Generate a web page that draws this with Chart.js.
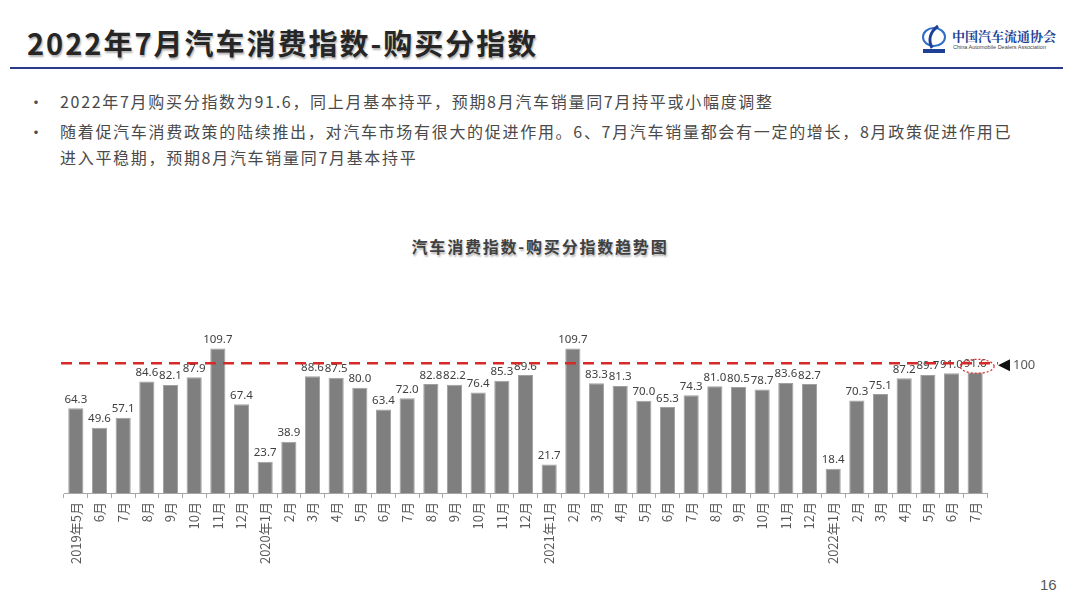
<!DOCTYPE html>
<html>
<head>
<meta charset="utf-8">
<script src="https://cdn.jsdelivr.net/npm/chart.js@4.4.0/dist/chart.umd.min.js"></script>
<style>
  body { margin: 0; width: 1080px; height: 608px; background: #fff; overflow: hidden; position: relative; font-family: "Noto Sans CJK SC", "Noto Sans", sans-serif; }
  .title { position: absolute; left: 27px; top: 20px; font-size: 29px; font-weight: bold; letter-spacing: 2px; color: #262626; text-shadow: 1px 2px 2px rgba(0,0,0,0.3); line-height: 44px; }
  .rule { position: absolute; left: 10px; top: 67px; width: 1053px; height: 2px; background: #2b3b8c; }
  .logo { position: absolute; left: 920px; top: 24px; width: 150px; height: 32px; }
  .logo .cn { position: absolute; left: 32px; top: 2px; font-family: "Noto Serif CJK SC", "Noto Sans CJK SC", serif; font-weight: bold; font-size: 13px; color: #1d3f95; white-space: nowrap; }
  .logo .en { position: absolute; left: 33px; top: 20px; font-size: 5.5px; color: #444; white-space: nowrap; font-family: "Liberation Sans", sans-serif; }
  .bul { position: absolute; left: 28px; font-size: 16px; letter-spacing: 1.7px; color: #4a4a4a; line-height: 26px; white-space: nowrap; }
  .bul .dot { position: absolute; left: 0; }
  .bul .txt { position: absolute; left: 32px; }
  .ctitle { position: absolute; left: 0; width: 1080px; top: 234px; text-align: center; font-size: 16px; font-weight: bold; letter-spacing: 1.8px; color: #404040; text-shadow: 1px 2px 2px rgba(0,0,0,0.3); }
  .page { position: absolute; left: 1040px; top: 576px; font-size: 15px; color: #595959; font-family: "Liberation Sans", sans-serif; }
  #wrap { position: absolute; left: 0; top: 293px; width: 1080px; height: 300px; }
</style>
</head>
<body>
<div class="title">2022年7月汽车消费指数-购买分指数</div>
<div class="rule"></div>
<div class="logo">
  <svg width="30" height="32" viewBox="0 0 30 32" style="position:absolute;left:0;top:0">
    <ellipse cx="14" cy="13" rx="11" ry="9" fill="none" stroke="#2f6fc4" stroke-width="2"/>
    <path d="M18 2 C10 8, 8 16, 12 24" fill="none" stroke="#1d3f95" stroke-width="3"/>
    <rect x="3" y="25" width="22" height="4" fill="#1d3f95"/>
  </svg>
  <div class="cn">中国汽车流通协会</div>
  <div class="en">China Automobile Dealers Association</div>
</div>
<div class="bul" style="top:88px"><span class="dot">•</span><span class="txt">2022年7月购买分指数为91.6，同上月基本持平，预期8月汽车销量同7月持平或小幅度调整</span></div>
<div class="bul" style="top:118px"><span class="dot">•</span><span class="txt">随着促汽车消费政策的陆续推出，对汽车市场有很大的促进作用。6、7月汽车销量都会有一定的增长，8月政策促进作用已<br>进入平稳期，预期8月汽车销量同7月基本持平</span></div>
<div class="ctitle">汽车消费指数-购买分指数趋势图</div>
<div class="page">16</div>
<div id="wrap"><canvas id="myChart"></canvas></div>

<script>
var months = ['2019年5月', '6月', '7月', '8月', '9月', '10月', '11月', '12月',
    '2020年1月', '2月', '3月', '4月', '5月', '6月', '7月', '8月', '9月', '10月', '11月', '12月',
    '2021年1月', '2月', '3月', '4月', '5月', '6月', '7月', '8月', '9月', '10月', '11月', '12月',
    '2022年1月', '2月', '3月', '4月', '5月', '6月', '7月'];
var buyIndex = [64.3, 49.6, 57.1, 84.6, 82.1, 87.9, 109.7, 67.4,
    23.7, 38.9, 88.6, 87.5, 80.0, 63.4, 72.0, 82.8, 82.2, 76.4, 85.3, 89.6,
    21.7, 109.7, 83.3, 81.3, 70.0, 65.3, 74.3, 81.0, 80.5, 78.7, 83.6, 82.7,
    18.4, 70.3, 75.1, 87.2, 89.7, 91.0, 91.6];
var baseLine = 100;

// value labels above the bars
var barLabels = {
    id: 'barLabels',
    afterDatasetsDraw: function(chart) {
        var ctx = chart.ctx;
        var meta = chart.getDatasetMeta(0);
        ctx.save();
        ctx.font = '11.5px "Noto Sans", sans-serif';
        ctx.fillStyle = '#404040';
        ctx.textAlign = 'center';
        ctx.textBaseline = 'bottom';
        meta.data.forEach(function(bar, i) {
            ctx.fillText(buyIndex[i].toFixed(1), bar.x, bar.y - 3);
        });
        ctx.restore();
    }
};

// red dashed 100 line, arrow and ring round the last value
var refLine = {
    id: 'refLine',
    afterDatasetsDraw: function(chart) {
        var ctx = chart.ctx;
        var area = chart.chartArea;
        var y = chart.scales.y.getPixelForValue(baseLine) + 2;
        ctx.save();
        ctx.strokeStyle = '#d62a2a';
        ctx.lineWidth = 2.5;
        ctx.setLineDash([11, 7]);
        ctx.beginPath();
        ctx.moveTo(area.left - 3, y);
        ctx.lineTo(area.right + 11, y);
        ctx.stroke();

        var last = chart.getDatasetMeta(0).data[buyIndex.length - 1];
        ctx.setLineDash([2, 2]);
        ctx.lineWidth = 1.2;
        ctx.beginPath();
        ctx.ellipse(last.x + 2, y + 3, 17, 7, 0, 0, Math.PI * 2);
        ctx.stroke();

        ctx.setLineDash([]);
        ctx.fillStyle = '#111';
        ctx.beginPath();
        ctx.moveTo(area.right + 11, y + 2);
        ctx.lineTo(area.right + 23, y - 4);
        ctx.lineTo(area.right + 23, y + 8);
        ctx.closePath();
        ctx.fill();

        ctx.fillStyle = '#595959';
        ctx.font = '13px "Noto Sans", sans-serif';
        ctx.textAlign = 'left';
        ctx.textBaseline = 'middle';
        ctx.fillText(String(baseLine), area.right + 26, y + 2);
        ctx.restore();
    }
};

var ctx = document.getElementById('myChart').getContext('2d');
var chart = new Chart(ctx, {
    type: 'bar',
    data: {
        labels: months,
        datasets: [{
            data: buyIndex,
            backgroundColor: '#7f7f7f',
            borderColor: '#a0a0a0',
            borderWidth: 1,
            barPercentage: 0.64,
            categoryPercentage: 1
        }]
    },
    options: {
        responsive: true,
        maintainAspectRatio: false,
        animation: false,
        layout: { padding: { left: 64, right: 93, top: 42, bottom: 0 } },
        plugins: { legend: { display: false }, tooltip: { enabled: false } },
        scales: {
            x: {
                afterFit: function(scale) { scale.height = 100; },
                grid: { display: true, drawOnChartArea: false, drawTicks: true, tickLength: 5, color: '#a6a6a6', offset: true },
                border: { display: true, color: '#a6a6a6', width: 1 },
                ticks: {
                    autoSkip: false,
                    minRotation: 90,
                    maxRotation: 90,
                    padding: 4,
                    color: '#595959',
                    font: { size: 13, family: '"Noto Sans CJK SC", sans-serif' }
                }
            },
            y: {
                display: false,
                min: 0,
                max: 120
            }
        }
    },
    plugins: [barLabels, refLine]
});
</script>
</body>
</html>
